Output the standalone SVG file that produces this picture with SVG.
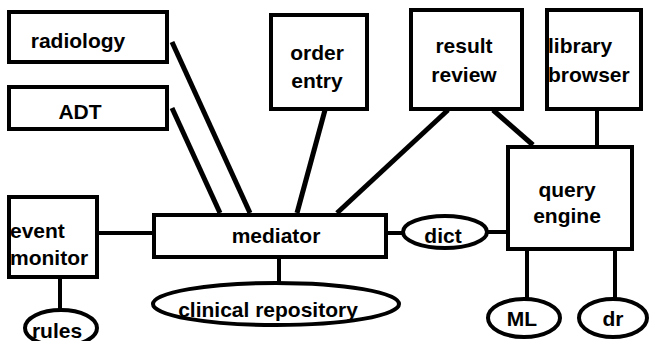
<svg xmlns="http://www.w3.org/2000/svg" width="650" height="341" viewBox="0 0 650 341">
<style>
.box{fill:#fff;stroke:#000;stroke-width:4}
.ell{fill:#fff;stroke:#000;stroke-width:4}
.ln{stroke:#000;stroke-width:4;fill:none}
.thk{stroke:#000;stroke-width:5;fill:none}
text{font-family:"Liberation Sans",Arial,sans-serif;font-weight:bold;font-size:21px;fill:#000}
.c{text-anchor:middle}
</style>
<rect width="650" height="341" fill="#fff"/>
<g id="connectors">
<line class="thk" x1="172" y1="42" x2="250" y2="213"/>
<line class="thk" x1="172" y1="108" x2="220" y2="213"/>
<line class="thk" x1="325" y1="110" x2="297" y2="213"/>
<line class="thk" x1="448" y1="110" x2="337" y2="213"/>
<line class="thk" x1="493" y1="110" x2="533" y2="145"/>
<line class="ln" x1="597" y1="110" x2="597" y2="145"/>
<line class="ln" x1="98" y1="233" x2="152" y2="233"/>
<line class="ln" x1="60" y1="278" x2="60" y2="310"/>
<line class="ln" x1="279" y1="257" x2="279" y2="283"/>
<line class="ln" x1="387" y1="233" x2="403" y2="233"/>
<line class="ln" x1="487" y1="232" x2="506" y2="232"/>
<line class="ln" x1="527" y1="250" x2="527" y2="298"/>
<line class="ln" x1="615" y1="250" x2="615" y2="298"/>
</g>
<g id="radiology"><rect class="box" x="9" y="12" width="158" height="50"/><text class="c" x="78" y="48">radiology</text></g>
<g id="adt"><rect class="box" x="9" y="87" width="158" height="42"/><text class="c" x="80" y="119">ADT</text></g>
<g id="order-entry"><rect class="box" x="271" y="15" width="96" height="94"/><text class="c" x="317" y="60">order</text><text class="c" x="317" y="88">entry</text></g>
<g id="result-review"><rect class="box" x="411" y="10" width="111" height="99"/><text class="c" x="464" y="53">result</text><text class="c" x="464" y="82">review</text></g>
<g id="library-browser"><rect class="box" x="547" y="10" width="94" height="99"/><text x="548" y="53">library</text><text x="548" y="82">browser</text></g>
<g id="query-engine"><rect class="box" x="508" y="147" width="124" height="102"/><text class="c" x="567" y="197">query</text><text class="c" x="567" y="223">engine</text></g>
<g id="mediator"><rect class="box" x="154" y="215" width="232" height="42"/><text class="c" x="276" y="243">mediator</text></g>
<g id="event-monitor"><rect class="box" x="9" y="197" width="88" height="80"/><text x="10" y="238">event</text><text x="10" y="265">monitor</text></g>
<g id="rules"><ellipse class="ell" cx="61" cy="328" rx="36" ry="18"/><text class="c" x="57" y="338">rules</text></g>
<g id="clinical-repository"><ellipse class="ell" cx="276" cy="304" rx="123" ry="21"/><text class="c" x="268" y="317">clinical repository</text></g>
<g id="dict"><ellipse class="ell" cx="445" cy="232" rx="42" ry="16"/><text class="c" x="443" y="243">dict</text></g>
<g id="ml"><ellipse class="ell" cx="524" cy="318" rx="36" ry="19"/><text class="c" x="522" y="326">ML</text></g>
<g id="dr"><ellipse class="ell" cx="613" cy="318" rx="34" ry="19"/><text class="c" x="613" y="326">dr</text></g>
</svg>
